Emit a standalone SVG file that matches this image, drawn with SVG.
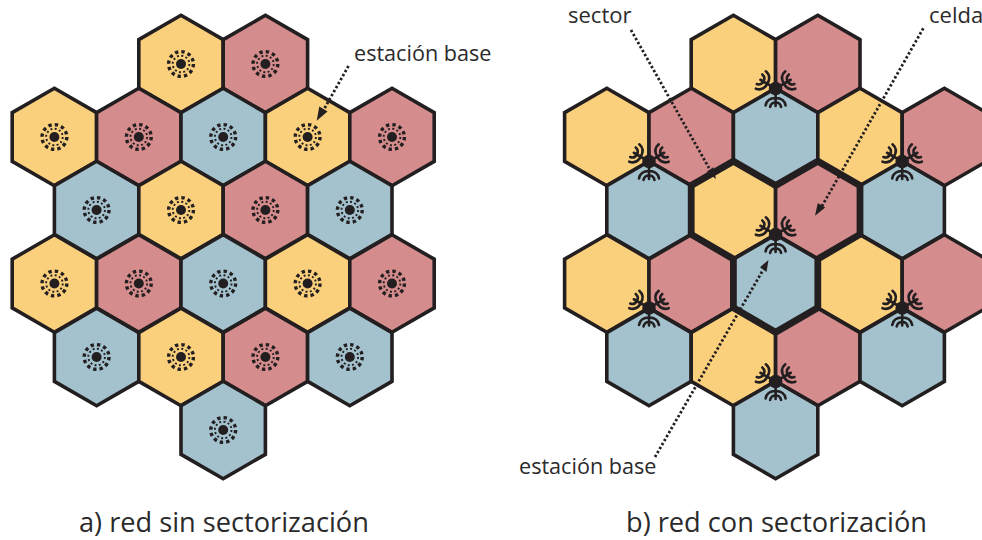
<svg xmlns="http://www.w3.org/2000/svg" width="982" height="540" viewBox="0 0 982 540">
<style>
.h{stroke:#231f20;stroke-width:3.6;stroke-linejoin:miter}
.y{fill:#fbd07c}.r{fill:#d58c8d}.b{fill:#a3c2cd}
.t{font-family:"Open Sans","Noto Sans",sans-serif;fill:#2b2a2b}
.d{fill:none;stroke:#231f20;stroke-width:2.8;stroke-dasharray:2.4 2.2}
.ah{fill:#231f20}
.a{fill:none;stroke:#231f20;stroke-width:2.6;stroke-linecap:round}
</style>
<defs>
<polygon id="hex" points="0,-48.7 42.2,-24.35 42.2,24.35 0,48.7 -42.2,24.35 -42.2,-24.35"/>
<g id="bs">
<circle r="5" fill="#231f20"/>
<circle r="8.3" fill="none" stroke="#231f20" stroke-width="1.9" stroke-dasharray="2 2.35"/>
<circle r="12.4" fill="none" stroke="#231f20" stroke-width="3.400" stroke-dasharray="3.400 3.09"/>
</g>
<g id="ant">
<path class="a" d="M0 0V17.500M-10 17C-9 11.500 -4.500 9.500 0 9.500C4.500 9.500 9 11.500 10 17M-5.500 18.500C-5 15.500 -2.500 14 0 14C2.500 14 5 15.500 5.500 18.500"/>
</g>
<g id="tw">
<use href="#ant"/><use href="#ant" transform="rotate(120)"/><use href="#ant" transform="rotate(-120)"/>
<circle r="6.800" fill="#231f20"/>
</g>
</defs>
<g id="red-a">
<g id="a1"><use href="#hex" class="h y" x="181" y="64"/><use href="#bs" x="181" y="64"/></g>
<g id="a2"><use href="#hex" class="h r" x="265.400" y="64"/><use href="#bs" x="265.400" y="64"/></g>
<g id="a3"><use href="#hex" class="h y" x="54.400" y="137"/><use href="#bs" x="54.400" y="137"/></g>
<g id="a4"><use href="#hex" class="h r" x="138.800" y="137"/><use href="#bs" x="138.800" y="137"/></g>
<g id="a5"><use href="#hex" class="h b" x="223.200" y="137"/><use href="#bs" x="223.200" y="137"/></g>
<g id="a6"><use href="#hex" class="h y" x="307.600" y="137"/><use href="#bs" x="307.600" y="137"/></g>
<g id="a7"><use href="#hex" class="h r" x="392" y="137"/><use href="#bs" x="392" y="137"/></g>
<g id="a8"><use href="#hex" class="h b" x="96.600" y="210"/><use href="#bs" x="96.600" y="210"/></g>
<g id="a9"><use href="#hex" class="h y" x="181" y="210"/><use href="#bs" x="181" y="210"/></g>
<g id="a10"><use href="#hex" class="h r" x="265.400" y="210"/><use href="#bs" x="265.400" y="210"/></g>
<g id="a11"><use href="#hex" class="h b" x="349.800" y="210"/><use href="#bs" x="349.800" y="210"/></g>
<g id="a12"><use href="#hex" class="h y" x="54.400" y="283.500"/><use href="#bs" x="54.400" y="283.500"/></g>
<g id="a13"><use href="#hex" class="h r" x="138.800" y="283.500"/><use href="#bs" x="138.800" y="283.500"/></g>
<g id="a14"><use href="#hex" class="h b" x="223.200" y="283.500"/><use href="#bs" x="223.200" y="283.500"/></g>
<g id="a15"><use href="#hex" class="h y" x="307.600" y="283.500"/><use href="#bs" x="307.600" y="283.500"/></g>
<g id="a16"><use href="#hex" class="h r" x="392" y="283.500"/><use href="#bs" x="392" y="283.500"/></g>
<g id="a17"><use href="#hex" class="h b" x="96.600" y="357"/><use href="#bs" x="96.600" y="357"/></g>
<g id="a18"><use href="#hex" class="h y" x="181" y="357"/><use href="#bs" x="181" y="357"/></g>
<g id="a19"><use href="#hex" class="h r" x="265.400" y="357"/><use href="#bs" x="265.400" y="357"/></g>
<g id="a20"><use href="#hex" class="h b" x="349.800" y="357"/><use href="#bs" x="349.800" y="357"/></g>
<g id="a21"><use href="#hex" class="h b" x="223.200" y="430"/><use href="#bs" x="223.200" y="430"/></g>
</g>
<g id="red-b">
<g id="b1"><use href="#hex" class="h y" x="733.400" y="64"/></g>
<g id="b2"><use href="#hex" class="h r" x="817.800" y="64"/></g>
<g id="b3"><use href="#hex" class="h y" x="606.800" y="137"/></g>
<g id="b4"><use href="#hex" class="h r" x="691.200" y="137"/></g>
<g id="b5"><use href="#hex" class="h b" x="775.600" y="137"/></g>
<g id="b6"><use href="#hex" class="h y" x="860" y="137"/></g>
<g id="b7"><use href="#hex" class="h r" x="944.400" y="137"/></g>
<g id="b8"><use href="#hex" class="h b" x="649" y="210"/></g>
<g id="b9"><use href="#hex" class="h y" x="733.400" y="210"/></g>
<g id="b10"><use href="#hex" class="h r" x="817.800" y="210"/></g>
<g id="b11"><use href="#hex" class="h b" x="902.200" y="210"/></g>
<g id="b12"><use href="#hex" class="h y" x="606.800" y="283.500"/></g>
<g id="b13"><use href="#hex" class="h r" x="691.200" y="283.500"/></g>
<g id="b14"><use href="#hex" class="h b" x="775.600" y="283.500"/></g>
<g id="b15"><use href="#hex" class="h y" x="860" y="283.500"/></g>
<g id="b16"><use href="#hex" class="h r" x="944.400" y="283.500"/></g>
<g id="b17"><use href="#hex" class="h b" x="649" y="357"/></g>
<g id="b18"><use href="#hex" class="h y" x="733.400" y="357"/></g>
<g id="b19"><use href="#hex" class="h r" x="817.800" y="357"/></g>
<g id="b20"><use href="#hex" class="h b" x="902.200" y="357"/></g>
<g id="b21"><use href="#hex" class="h b" x="775.600" y="430"/></g>
<path id="celda-outline" d="M691.200 185.500L733.400 161.200L775.600 185.500L817.800 161.200L860 185.500V234.400L817.800 259V307.800L775.600 332.200L733.400 307.800V259L691.200 234.400Z" fill="none" stroke="#231f20" stroke-width="6.800" stroke-linejoin="miter"/>
<g id="t1"><use href="#tw" x="775.600" y="88.500"/></g>
<g id="t2"><use href="#tw" x="649" y="161.500"/></g>
<g id="t3"><use href="#tw" x="902.200" y="161.500"/></g>
<g id="t4"><use href="#tw" x="775.600" y="234.500"/></g>
<g id="t5"><use href="#tw" x="649" y="308"/></g>
<g id="t6"><use href="#tw" x="902.200" y="308"/></g>
<g id="t7"><use href="#tw" x="775.600" y="381.500"/></g>
</g>
<g id="connectors">
<path class="d" d="M348.500 66L323 111"/><polygon class="ah" points="316.700,120.700 319.300,106.500 327.500,111.500"/>
<path class="d" d="M631 30L709 168"/><polygon class="ah" points="716,179 706.700,171.700 713.300,167.300"/>
<path class="d" d="M923.300 28.300L822 206"/><polygon class="ah" points="815,215.700 817.800,203 825.200,207.500"/>
<path class="d" d="M655 457L763 270"/><polygon class="ah" points="768.500,260 760,267.300 766.500,272"/>
</g>
<g id="labels">
<text class="t" x="354" y="61" font-size="21.600">estación base</text>
<text class="t" x="568" y="23" font-size="22">sector</text>
<text class="t" x="929" y="23" font-size="22">celda</text>
<text class="t" x="519" y="474" font-size="21.600">estación base</text>
<text class="t" x="79" y="531.800" font-size="27.200">a) red sin sectorización</text>
<text class="t" x="626" y="531.800" font-size="27.200">b) red con sectorización</text>
</g>
</svg>
